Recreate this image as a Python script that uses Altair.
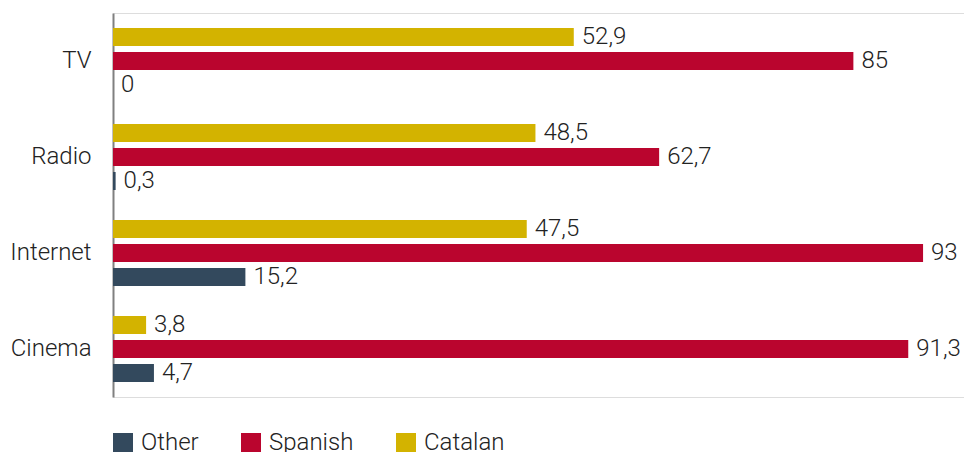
import altair as alt
import pandas as pd

categories = ["TV", "Radio", "Internet", "Cinema"]
catalan = [52.9, 48.5, 47.5, 3.8]
spanish = [85, 62.7, 93, 91.3]
other = [0, 0.3, 15.2, 4.7]

series_names = ["Other", "Spanish", "Catalan"]
series_colors = ["#33495D", "#BA052E", "#D3B300"]
bar_order = ["Catalan", "Spanish", "Other"]

rows = []
for i, c in enumerate(categories):
    rows.append({"category": c, "series": "Catalan", "value": catalan[i]})
    rows.append({"category": c, "series": "Spanish", "value": spanish[i]})
    rows.append({"category": c, "series": "Other", "value": other[i]})
df = pd.DataFrame(rows)

FONT = "Roboto"
TXT = "#222222"
FS = 24

base = alt.Chart(df).transform_calculate(
    label="replace(toString(datum.value), '.', ',')"
).encode(
    y=alt.Y("category:N", sort=categories, title=None,
            scale=alt.Scale(paddingInner=0.25, paddingOuter=0.125),
            axis=alt.Axis(domain=True, domainColor="#808080", domainWidth=2,
                          ticks=False, grid=False, labelFontSize=FS,
                          labelColor=TXT, labelFont=FONT, labelFontWeight=300,
                          labelPadding=22)),
    yOffset=alt.YOffset("series:N", sort=bar_order,
                        scale=alt.Scale(domain=bar_order, paddingInner=0.25, paddingOuter=0.125)),
)

bars = base.mark_bar().encode(
    x=alt.X("value:Q", axis=None, scale=alt.Scale(domain=[0, 97.7], nice=False, zero=True)),
    color=alt.Color("series:N",
                    scale=alt.Scale(domain=series_names, range=series_colors),
                    legend=alt.Legend(title=None, orient="none", legendX=-2, legendY=418,
                                      direction="horizontal", symbolType="square",
                                      symbolSize=400, symbolStrokeWidth=0, symbolOpacity=1,
                                      labelFontSize=FS, labelFont=FONT, labelFontWeight=300,
                                      labelColor=TXT, columnPadding=40, labelOffset=6)),
)

labels = base.mark_text(align="left", baseline="middle", dx=8, fontSize=FS,
                        font=FONT, fontWeight=300, color=TXT).encode(
    x=alt.X("value:Q"),
    text="label:N",
)

chart = alt.layer(bars, labels).properties(
    width=851, height=384,
    autosize=alt.AutoSizeParams(type="none"),
    padding={"left": 113, "top": 13, "right": 0, "bottom": 55},
).configure_view(stroke=None).configure(background="white")

chart.save("out.html", embed_options={"renderer": "svg", "actions": False})
